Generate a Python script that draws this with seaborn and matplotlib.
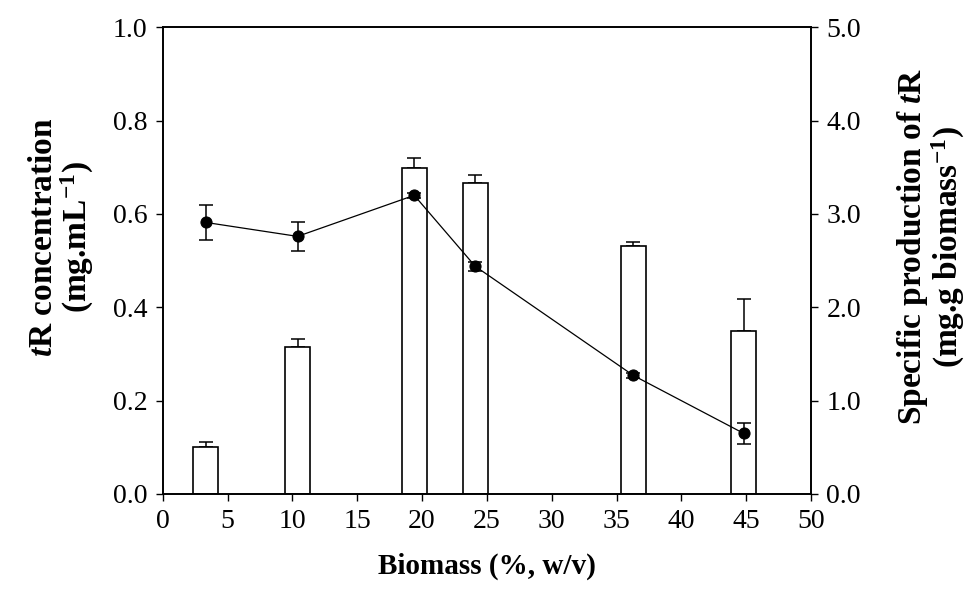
import numpy as np
import pandas as pd
import matplotlib
matplotlib.use("Agg")
import matplotlib.pyplot as plt
import seaborn as sns
from matplotlib.ticker import FormatStrFormatter

# values
biomass = [3.3, 10.4, 19.4, 24.1, 36.3, 44.8]
tr_conc = [0.100, 0.314, 0.699, 0.667, 0.532, 0.350]
tr_conc_err = [0.011, 0.018, 0.020, 0.017, 0.009, 0.067]
spec_prod = [2.91, 2.76, 3.20, 2.44, 1.27, 0.65]
spec_prod_err = [0.19, 0.155, 0.03, 0.05, 0.03, 0.11]

x_ticks = [0, 5, 10, 15, 20, 25, 30, 35, 40, 45, 50]
left_ticks = [0.0, 0.2, 0.4, 0.6, 0.8, 1.0]
right_ticks = [0.0, 1.0, 2.0, 3.0, 4.0, 5.0]
BAR_WIDTH = 1.93

sns.set_style("ticks")
plt.rcParams["font.family"] = ["Liberation Serif", "DejaVu Serif"]
plt.rcParams["mathtext.fontset"] = "custom"
plt.rcParams["mathtext.it"] = "Liberation Serif:italic:bold"
plt.rcParams["mathtext.rm"] = "Liberation Serif:bold"
plt.rcParams["mathtext.default"] = "regular"
for key in ["text.color", "axes.labelcolor", "xtick.color", "ytick.color",
            "xtick.labelcolor", "ytick.labelcolor", "axes.edgecolor"]:
    plt.rcParams[key] = "black"

df = pd.DataFrame({
    "biomass": biomass,
    "conc": tr_conc,
    "conc_err": tr_conc_err,
    "spec": spec_prod,
    "spec_err": spec_prod_err,
})

fig = plt.figure(figsize=(9.68, 5.99), dpi=100)
ax = fig.add_axes([0.1681, 0.1753, 0.6697, 0.7791])

rel_width = BAR_WIDTH / np.diff(sorted(biomass)).min()
sns.barplot(
    data=df, x="biomass", y="conc", native_scale=True, errorbar=None,
    width=rel_width, color="white", edgecolor="black", linewidth=1.2,
    saturation=1, ax=ax, zorder=2
)
ax.errorbar(
    df["biomass"], df["conc"], yerr=[np.zeros(len(df)), df["conc_err"]],
    fmt="none", ecolor="black", elinewidth=1.1, capsize=4.8, capthick=1.1,
    zorder=1
)

ax2 = ax.twinx()
sns.lineplot(
    data=df, x="biomass", y="spec", color="black", linewidth=0.9,
    marker="o", markersize=8, markeredgecolor="black", ax=ax2, zorder=3
)
ax2.errorbar(
    df["biomass"], df["spec"], yerr=df["spec_err"], fmt="none",
    ecolor="black", elinewidth=1.1, capsize=5, capthick=1.1, zorder=2
)

ax.set_xlim(0, 50)
ax.set_ylim(0, 1.0)
ax2.set_ylim(0, 5.0)
ax.set_xticks(x_ticks)
ax.set_xticklabels([str(t) for t in x_ticks])
ax.set_yticks(left_ticks)
ax2.set_yticks(right_ticks)
ax.yaxis.set_major_formatter(FormatStrFormatter("%.1f"))
ax2.yaxis.set_major_formatter(FormatStrFormatter("%.1f"))

for a in (ax, ax2):
    for s in a.spines.values():
        s.set_visible(True)
        s.set_linewidth(1.2)
        s.set_color("black")
    a.tick_params(direction="out", length=5, width=1, labelsize=20,
                  color="black", labelcolor="black", pad=6)
ax.tick_params(axis="y", right=False)
ax.tick_params(axis="x", top=False)

ax.set_xlabel("Biomass (%, w/v)", fontsize=21, fontweight="bold",
              color="black")
ax.xaxis.set_label_coords(0.5, -0.125)
ax.set_ylabel("$\\mathit{t}$R concentration\n(mg.mL$^{-1}$)",
              fontsize=24, fontweight="bold", linespacing=1.0, color="black")
ax.yaxis.set_label_coords(-0.103, 0.55)
ax2.set_ylabel("Specific production of $\\mathit{t}$R\n(mg.g biomass$^{-1}$)",
               fontsize=24, fontweight="bold", linespacing=1.0, color="black")
ax2.yaxis.set_label_coords(1.13, 0.53)

fig.savefig("out.png", dpi=100)
